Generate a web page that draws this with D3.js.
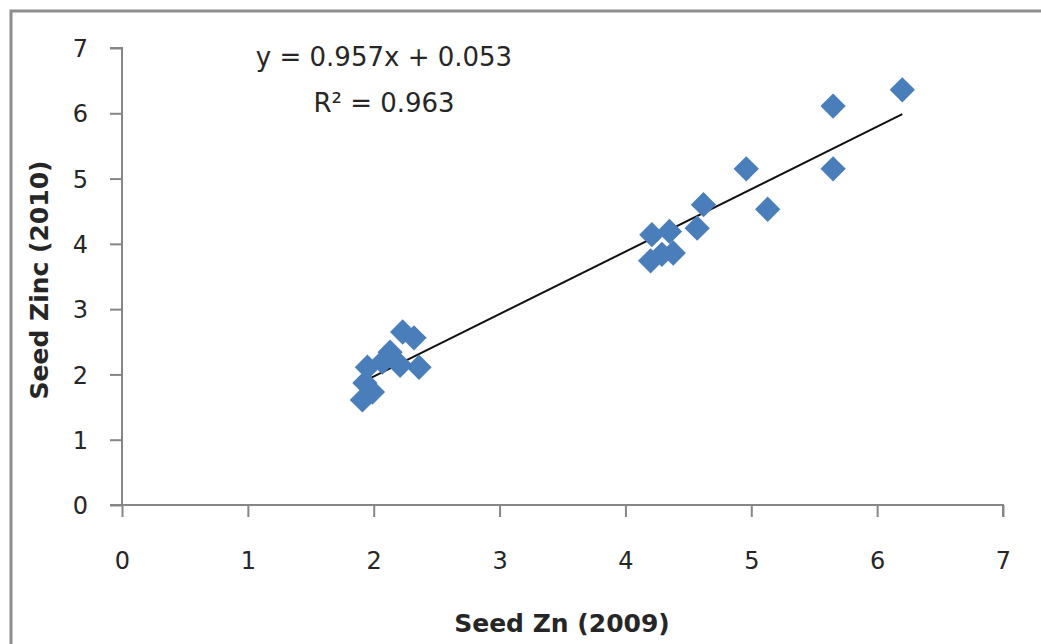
<!DOCTYPE html>
<html>
<head>
<meta charset="utf-8">
<script src="https://cdn.jsdelivr.net/npm/d3@7"></script>
<style>
  body { margin: 0; background: #fff; }
  svg { display: block; font-family: "DejaVu Sans", sans-serif; }
  .axis path, .axis line { stroke: #868686; stroke-width: 2; }
  .axis text { fill: #262626; font-size: 24px; font-family: "DejaVu Sans", sans-serif; }
</style>
</head>
<body>
<div id="chart"></div>
<script>
// seed zinc, 2009 vs 2010
var zn2009 = [1.91, 1.93, 1.95, 1.99, 2.07, 2.13, 2.21, 2.23, 2.32, 2.36,
              4.20, 4.21, 4.29, 4.35, 4.38, 4.57, 4.62,
              4.96, 5.13, 5.65, 5.65, 6.20];
var zn2010 = [1.61, 1.87, 2.11, 1.73, 2.19, 2.34, 2.14, 2.65, 2.56, 2.11,
              3.74, 4.14, 3.84, 4.19, 3.86, 4.24, 4.60,
              5.15, 4.53, 5.15, 6.11, 6.36];
var fitSlope = 0.957, fitIntercept = 0.053;
var eqLines = ["y = 0.957x + 0.053", "R² = 0.963"];
var ticks = [0, 1, 2, 3, 4, 5, 6, 7];

var W = 1041, H = 644;
var plot = {l: 122, r: 1003, t: 48, b: 505};

var svg = d3.select('#chart').append('svg')
    .attr('width', W)
    .attr('height', H);

// outer chart frame, cut off at right/bottom like the source
svg.append('rect')
    .attr('x', 11).attr('y', 11)
    .attr('width', W + 20).attr('height', H + 20)
    .attr('fill', 'none')
    .attr('stroke', '#8e8e8e')
    .attr('stroke-width', 3);

var xScale = d3.scaleLinear().domain([0, 7]).range([plot.l, plot.r]);
var yScale = d3.scaleLinear().domain([0, 7]).range([plot.b, plot.t]);

var xAxis = d3.axisBottom(xScale).tickValues(ticks).tickSize(12).tickSizeOuter(12).tickFormat(d3.format('d'));
var yAxis = d3.axisLeft(yScale).tickValues(ticks).tickSize(12).tickSizeOuter(12).tickFormat(d3.format('d'));

svg.append('g').attr('class', 'axis x')
    .attr('transform', 'translate(0,' + plot.b + ')')
    .call(xAxis)
    .call(g => g.select('.domain').attr('d', 'M' + plot.l + ',0H' + plot.r + 'V12'))
    .call(g => g.selectAll('text').attr('y', 64).attr('dy', 0));

svg.append('g').attr('class', 'axis y')
    .attr('transform', 'translate(' + plot.l + ',0)')
    .call(yAxis)
    .call(g => g.select('.domain').attr('d', 'M-12,' + plot.t + 'H0V' + plot.b))
    .call(g => g.selectAll('text').attr('x', -34).attr('dy', '0.36em'));

// the x axis line also runs left to the y tick
svg.append('line')
    .attr('x1', plot.l - 12).attr('x2', plot.l)
    .attr('y1', plot.b).attr('y2', plot.b)
    .attr('stroke', '#868686').attr('stroke-width', 2);

// trend line over the data range
var xr = d3.extent(zn2009);
svg.append('line')
    .attr('x1', xScale(xr[0])).attr('y1', yScale(fitSlope * xr[0] + fitIntercept))
    .attr('x2', xScale(xr[1])).attr('y2', yScale(fitSlope * xr[1] + fitIntercept))
    .attr('stroke', '#111')
    .attr('stroke-width', 2);

var diamond = d3.symbol().type(d3.symbolSquare).size(320);
svg.append('g').selectAll('path')
    .data(zn2009.map((d, i) => [d, zn2010[i]]))
    .enter().append('path')
    .attr('d', diamond)
    .attr('transform', d => 'translate(' + xScale(d[0]) + ',' + yScale(d[1]) + ') rotate(45)')
    .attr('fill', '#4a7ebb');

svg.append('g').selectAll('text')
    .data(eqLines)
    .enter().append('text')
    .attr('x', 384)
    .attr('y', (d, i) => 66 + i * 46)
    .attr('text-anchor', 'middle')
    .attr('fill', '#262626')
    .style('font-size', '26px')
    .text(d => d);

svg.append('text')
    .attr('x', 562).attr('y', 632)
    .attr('text-anchor', 'middle')
    .attr('fill', '#262626')
    .style('font-size', '25px')
    .style('font-weight', 'bold')
    .text('Seed Zn (2009)');

svg.append('text')
    .attr('transform', 'translate(48,280) rotate(-90)')
    .attr('text-anchor', 'middle')
    .attr('fill', '#262626')
    .style('font-size', '25px')
    .style('font-weight', 'bold')
    .text('Seed Zinc (2010)');
</script>
</body>
</html>
